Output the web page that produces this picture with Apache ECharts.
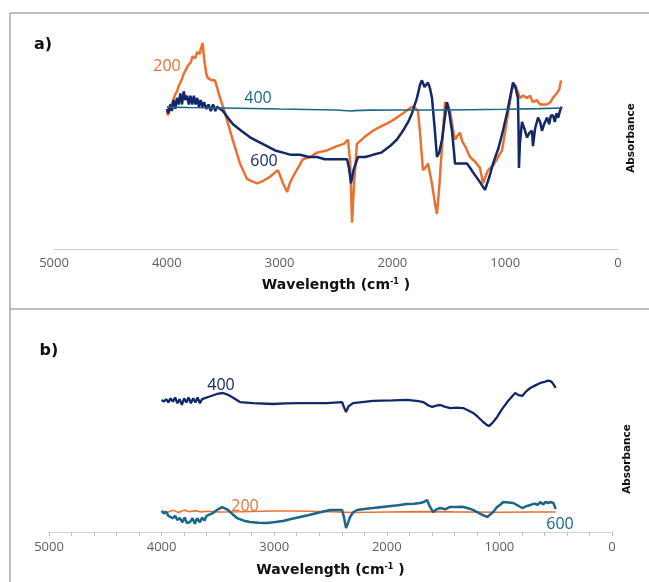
<!DOCTYPE html>
<html>
<head>
<meta charset="utf-8">
<script src="https://cdn.jsdelivr.net/npm/echarts@6/dist/echarts.min.js"></script>
<style>
  html, body { margin: 0; padding: 0; background: #fff; }
  #chart { width: 649px; height: 582px; }
</style>
</head>
<body>
<div id="chart"></div>
<script>
// wavenumber ticks shared by both panels
const xTicks = [5000, 4000, 3000, 2000, 1000, 0]

// panel a) [wavenumber, absorbance (a.u.)]
const a200 = [
  [4000, 63], [3990, 61], [3970, 65], [3950, 67], [3930, 70], [3910, 72], [3890, 75], [3870, 77],
  [3850, 80], [3830, 82], [3810, 84], [3790, 85], [3770, 88], [3750, 87], [3730, 90], [3710, 89],
  [3695, 92], [3682, 94], [3670, 87], [3650, 80], [3635, 78], [3600, 77], [3573, 77], [3550, 73],
  [3528, 69], [3484, 62], [3422, 51], [3351, 39], [3289, 32], [3250, 31], [3200, 30], [3150, 31],
  [3085, 33], [3040, 35], [3014, 36], [2970, 30], [2934, 26], [2910, 30], [2881, 33], [2793, 41],
  [2730, 42], [2668, 44], [2580, 45], [2491, 47], [2430, 48], [2394, 50], [2375, 40], [2358, 12],
  [2340, 30], [2314, 48], [2250, 51], [2172, 54], [2100, 56], [2021, 58], [1960, 60], [1906, 62],
  [1826, 65], [1790, 64], [1773, 63], [1750, 50], [1729, 36], [1710, 37], [1684, 39], [1650, 30],
  [1620, 20], [1605, 16], [1585, 28], [1560, 47], [1534, 67], [1510, 66], [1489, 63], [1465, 55],
  [1445, 50], [1420, 52], [1401, 53], [1380, 49], [1356, 47], [1312, 42], [1270, 40], [1223, 37],
  [1197, 30], [1175, 33], [1152, 36], [1110, 38], [1073, 41], [1028, 45], [984, 59], [940, 73],
  [913, 75], [890, 72], [869, 69], [840, 70], [807, 69], [780, 70], [754, 67], [720, 68],
  [691, 66], [660, 66], [629, 66], [600, 67], [576, 69], [545, 71], [520, 73], [505, 77]
]
const a400 = [
  [4000, 64.8], [3800, 64.6], [3500, 64.4], [3000, 63.9], [2500, 63.5], [2370, 63.0], [2330, 63.2],
  [2200, 63.4], [2000, 63.5], [1500, 63.5], [1000, 63.8], [700, 64.1], [500, 64.4]
]
const a600 = [
  [4000, 64], [3985, 62], [3970, 66], [3955, 63], [3940, 68], [3925, 64], [3910, 69], [3895, 66],
  [3880, 71], [3865, 66], [3850, 72], [3835, 68], [3820, 70], [3805, 66], [3790, 70], [3775, 66],
  [3760, 70], [3745, 66], [3730, 69], [3715, 65], [3700, 68], [3685, 65], [3670, 67], [3650, 64],
  [3630, 66], [3610, 63], [3590, 66], [3570, 63], [3555, 65], [3530, 64], [3502, 63], [3460, 60],
  [3413, 57], [3340, 54], [3262, 51], [3190, 49], [3112, 47], [3040, 45], [2970, 44], [2900, 43],
  [2819, 43], [2740, 42], [2668, 42], [2600, 41], [2527, 41], [2460, 41], [2402, 41], [2385, 37],
  [2367, 30], [2345, 36], [2305, 42], [2240, 42], [2172, 43], [2100, 44], [2021, 47], [1960, 50],
  [1906, 54], [1860, 58], [1826, 62], [1782, 69], [1755, 75], [1738, 77], [1715, 74], [1702, 74],
  [1684, 76], [1665, 73], [1649, 69], [1625, 55], [1605, 42], [1585, 44], [1560, 50], [1535, 60],
  [1516, 67], [1495, 62], [1472, 54], [1455, 45], [1445, 39], [1400, 39], [1339, 39], [1310, 37],
  [1285, 35], [1230, 31], [1179, 27], [1140, 33], [1108, 39], [1060, 46], [1020, 54], [980, 63],
  [931, 76], [910, 74], [887, 69], [882, 55], [878, 37], [870, 48], [851, 58], [830, 55],
  [807, 51], [785, 53], [762, 54], [754, 47], [735, 55], [709, 60], [690, 58], [674, 54],
  [655, 57], [629, 60], [610, 57], [595, 61], [576, 61], [560, 58], [545, 62], [530, 60],
  [515, 63], [500, 65]
]

// panel b) [wavenumber, absorbance (a.u.)]
const b200 = [
  [4000, 12.5], [3950, 12.0], [3900, 13.5], [3850, 12.0], [3800, 13.5], [3750, 12.5], [3700, 13.2],
  [3650, 12.4], [3600, 12.8], [3500, 12.3], [3300, 12.5], [3000, 13.0], [2800, 13.0], [2500, 12.5],
  [2300, 12.0], [2000, 12.3], [1700, 12.6], [1400, 12.4], [1000, 12.2], [700, 12.3], [500, 12.3]
]
const b400 = [
  [4000, 81.5], [3980, 80.5], [3960, 82.0], [3940, 80.0], [3920, 82.5], [3900, 80.5], [3880, 83.0],
  [3860, 79.5], [3840, 82.0], [3820, 78.5], [3800, 82.5], [3780, 80.0], [3760, 83.0], [3740, 79.5],
  [3720, 82.5], [3700, 80.0], [3680, 83.0], [3660, 79.5], [3640, 82.0], [3633, 81.5], [3580, 83.5],
  [3508, 85.2], [3455, 85.8], [3420, 85.0], [3375, 83.3], [3304, 80.2], [3188, 79.6], [3010, 79.0],
  [2900, 79.4], [2770, 79.6], [2530, 79.6], [2397, 80.2], [2380, 77.0], [2362, 74.1], [2340, 77.5],
  [2300, 79.6], [2122, 80.9], [1950, 81.2], [1820, 81.5], [1720, 80.8], [1677, 80.2], [1640, 78.5],
  [1597, 77.2], [1560, 78.0], [1526, 78.4], [1480, 77.2], [1437, 76.5], [1380, 76.8], [1322, 76.5],
  [1280, 75.2], [1233, 73.5], [1190, 71.0], [1144, 67.9], [1110, 66.0], [1091, 65.4], [1060, 67.5],
  [1020, 71.0], [975, 76.0], [931, 80.2], [890, 83.5], [860, 85.8], [830, 84.5], [797, 84.0],
  [760, 87.0], [726, 88.9], [680, 90.5], [637, 92.0], [600, 92.6], [570, 93.4], [548, 93.2],
  [530, 92.2], [521, 92.0], [510, 90.0], [500, 88.9]
]
const b600 = [
  [4000, 13.0], [3980, 11.5], [3960, 12.5], [3940, 10.0], [3926, 10.5], [3900, 8.5], [3880, 10.0],
  [3860, 7.5], [3837, 8.6], [3815, 6.0], [3795, 9.0], [3775, 5.5], [3748, 6.2], [3725, 8.5],
  [3705, 5.0], [3685, 8.5], [3660, 6.0], [3640, 9.0], [3620, 7.0], [3600, 10.0], [3588, 9.3],
  [3550, 11.5], [3508, 13.6], [3464, 15.4], [3410, 13.6], [3370, 11.0], [3330, 8.6], [3270, 7.0],
  [3215, 6.2], [3140, 5.7], [3064, 5.6], [2990, 6.2], [2922, 6.8], [2850, 8.0], [2770, 9.3],
  [2690, 10.5], [2619, 11.7], [2560, 12.7], [2504, 13.6], [2450, 13.6], [2397, 13.6], [2380, 9.0],
  [2362, 2.5], [2345, 5.5], [2326, 9.3], [2300, 12.0], [2264, 13.6], [2200, 14.2], [2122, 14.8],
  [2000, 15.8], [1900, 16.5], [1820, 17.3], [1760, 17.5], [1704, 17.9], [1670, 18.5], [1642, 19.8],
  [1620, 16.0], [1588, 12.3], [1560, 14.0], [1526, 14.8], [1480, 14.0], [1440, 15.5], [1375, 15.4],
  [1330, 15.6], [1286, 14.8], [1240, 13.8], [1197, 12.3], [1150, 10.5], [1108, 9.3], [1060, 12.0],
  [1020, 15.4], [990, 17.0], [966, 18.5], [920, 18.2], [877, 17.9], [840, 16.5], [797, 14.8],
  [760, 16.0], [726, 16.7], [690, 17.5], [660, 16.8], [637, 18.5], [610, 17.0], [590, 18.6],
  [566, 17.9], [545, 18.5], [521, 17.9], [510, 16.0], [500, 14.2]
]

const cOrange = '#E97132'
const cNavy = '#12286B'
const cTeal = '#1A6688'
const axisFont = 'Open Sans'
const boldFont = 'DejaVu Sans'

const chart = echarts.init(document.getElementById('chart'))

function xAxisFor(gridIndex, withTicks, nameGap) {
  return {
    type: 'value',
    gridIndex,
    min: xTicks[xTicks.length - 1],
    max: xTicks[0],
    interval: 1000,
    inverse: true,
    splitLine: { show: false },
    axisLine: { show: true, lineStyle: { color: '#d0d0d0', width: 1 } },
    axisTick: { show: withTicks, length: 4, lineStyle: { color: '#bdbdbd' } },
    minorTick: { show: withTicks, splitNumber: 5, length: 4, lineStyle: { color: '#bdbdbd' } },
    axisLabel: {
      color: '#5f5f5f',
      fontSize: 13,
      fontFamily: axisFont,
      margin: withTicks ? 9 : 8,
      formatter: (v) => String(v)
    },
    name: 'Wavelength (cm{sup|-1} )',
    nameLocation: 'middle',
    nameGap,
    nameTextStyle: {
      color: '#111',
      fontSize: 14,
      fontWeight: 'bold',
      fontFamily: boldFont,
      rich: { sup: { fontSize: 8, verticalAlign: 'top', color: '#111', fontFamily: boldFont, padding: [0, 0, 7, 0] } }
    }
  }
}

function lineSeries(name, data, color, width, xi) {
  return {
    name,
    type: 'line',
    xAxisIndex: xi,
    yAxisIndex: xi,
    data,
    showSymbol: false,
    lineStyle: { color, width },
    itemStyle: { color },
    silent: true
  }
}

function note(text, x, y, color, size, bold, rot) {
  return {
    type: 'text',
    x, y,
    rotation: rot || 0,
    style: {
      text,
      fill: color,
      font: (bold ? 'bold ' : '') + size + 'px "' + (bold ? boldFont : axisFont) + '"',
      align: 'center',
      verticalAlign: 'middle'
    }
  }
}

const frame = { stroke: '#a8a8a8', lineWidth: 1.5 }

chart.setOption({
  animation: false,
  backgroundColor: '#fff',
  grid: [
    { left: 54, right: 31, top: 30, bottom: 333 },
    { left: 49, right: 37, top: 370, bottom: 50 }
  ],
  xAxis: [xAxisFor(0, false, 29), xAxisFor(1, true, 31)],
  yAxis: [
    { gridIndex: 0, type: 'value', min: 0, max: 100, show: false },
    { gridIndex: 1, type: 'value', min: 0, max: 100, show: false }
  ],
  series: [
    lineSeries('200', a200, cOrange, 2.5, 0),
    lineSeries('600', a600, cNavy, 2.5, 0),
    lineSeries('400', a400, cTeal, 1.6, 0),
    lineSeries('200', b200, cOrange, 1.6, 1),
    lineSeries('400', b400, cNavy, 2.3, 1),
    lineSeries('600', b600, cTeal, 2.5, 1)
  ],
  graphic: [
    { type: 'line', shape: { x1: 10, y1: 13, x2: 649, y2: 13 }, style: frame },
    { type: 'line', shape: { x1: 10, y1: 13, x2: 10, y2: 582 }, style: frame },
    { type: 'line', shape: { x1: 10, y1: 309, x2: 649, y2: 309 }, style: frame },
    note('a)', 43, 45, '#111', 16, true),
    note('b)', 49, 351, '#111', 16, true),
    note('200', 167, 66, cOrange, 16),
    note('400', 258, 98, cTeal, 16),
    note('600', 264, 161, cNavy, 16),
    note('400', 221, 385, cNavy, 16),
    note('200', 245, 506, cOrange, 16),
    note('600', 560, 524, cTeal, 16),
    note('Absorbance', 631, 138, '#111', 10.5, true, Math.PI / 2),
    note('Absorbance', 627, 459, '#111', 10.5, true, Math.PI / 2)
  ]
})
</script>
</body>
</html>
